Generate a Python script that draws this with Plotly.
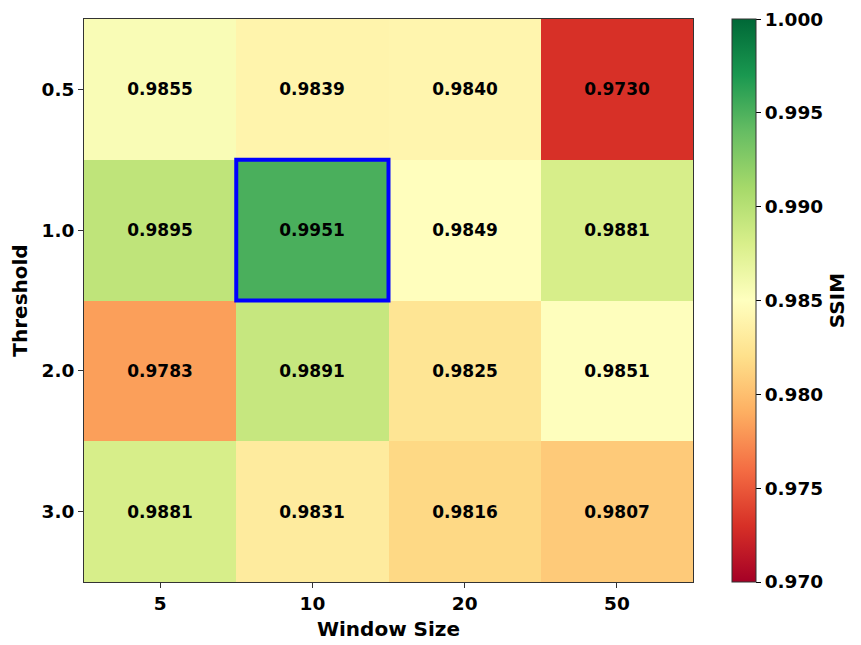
import plotly.graph_objects as go

# datos del mapa de calor (SSIM)
window_sizes = ["5", "10", "20", "50"]
thresholds = ["0.5", "1.0", "2.0", "3.0"]
ssim_values = [
    [0.9855, 0.9839, 0.9840, 0.9730],
    [0.9895, 0.9951, 0.9849, 0.9881],
    [0.9783, 0.9891, 0.9825, 0.9851],
    [0.9881, 0.9831, 0.9816, 0.9807],
]
best_window = "10"
best_threshold = "1.0"
cbar_ticks = [0.970, 0.975, 0.980, 0.985, 0.990, 0.995, 1.000]

font_family = "DejaVu Sans"

cell_text = [[f"<b>{v:.4f}</b>" for v in row] for row in ssim_values]

# el tick 1.000 cae justo en el borde; se mete un pelin dentro
cbar_tickvals = [min(t, 0.99999) for t in cbar_ticks]

fig = go.Figure(go.Heatmap(
    z=ssim_values,
    x=window_sizes,
    y=thresholds,
    colorscale="RdYlGn",
    zmin=0.97,
    zmax=1.0,
    text=cell_text,
    texttemplate="%{text}",
    textfont=dict(family=font_family, size=17, color="black"),
    hoverinfo="skip",
    colorbar=dict(
        x=1.064, xanchor="left", xref="paper",
        y=0.5, yanchor="middle", len=1.0, lenmode="fraction",
        ypad=0, xpad=0,
        thickness=24,
        outlinewidth=1, outlinecolor="#333333",
        tickvals=cbar_tickvals,
        ticktext=[f"{t:.3f}" for t in cbar_ticks],
        ticklabeloverflow="allow",
        ticks="outside", ticklen=5, tickcolor="black",
        tickfont=dict(family=font_family, size=18.5, color="black", weight="bold"),
        title=dict(text="SSIM", side="right",
                   font=dict(family=font_family, size=20, color="black", weight="bold")),
    ),
))

# recuadro azul en la mejor combinacion
bx = window_sizes.index(best_window)
by = thresholds.index(best_threshold)
fig.add_shape(type="rect", xref="x", yref="y",
              x0=bx - 0.5, x1=bx + 0.5, y0=by - 0.5, y1=by + 0.5,
              line=dict(color="#0000ff", width=4))

fig.update_layout(
    width=861, height=645,
    margin=dict(l=76, r=176, t=11, b=71, autoexpand=False),
    paper_bgcolor="white", plot_bgcolor="white",
    font=dict(family=font_family, color="black"),
)
fig.update_xaxes(
    type="category", showgrid=False, zeroline=False, automargin=False,
    showline=True, linecolor="#333333", linewidth=1, mirror=True,
    ticks="outside", ticklen=5, tickcolor="#333333",
    tickfont=dict(family=font_family, size=18.5, color="black", weight="bold"),
    title=dict(text="Window Size", standoff=8,
               font=dict(family=font_family, size=20, color="black", weight="bold")),
)
fig.update_yaxes(
    type="category", autorange="reversed", showgrid=False, zeroline=False,
    automargin=False,
    showline=True, linecolor="#333333", linewidth=1, mirror=True,
    ticks="outside", ticklen=5, tickcolor="#333333",
    tickfont=dict(family=font_family, size=18.5, color="black", weight="bold"),
    title=dict(text="Threshold", standoff=8,
               font=dict(family=font_family, size=20, color="black", weight="bold")),
)

fig.write_html("out.html")
